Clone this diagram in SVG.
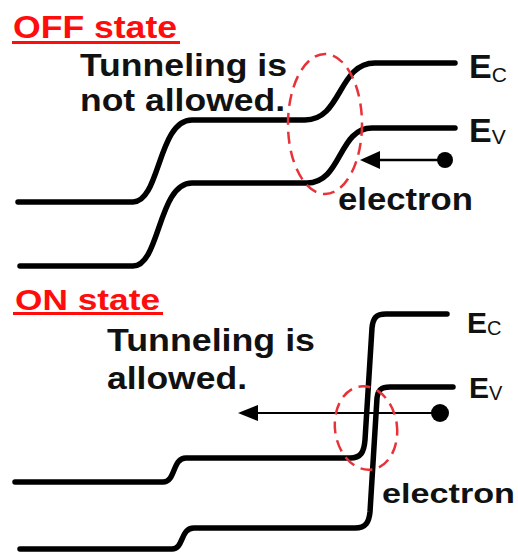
<svg xmlns="http://www.w3.org/2000/svg" width="518" height="555" viewBox="0 0 518 555">
<defs>
<style>
.band{fill:none;stroke:#000;stroke-width:5.5;stroke-linecap:round;stroke-linejoin:round}
.lbl{font-family:"Liberation Sans",Arial,sans-serif;font-weight:bold;fill:#111}
.title{font-family:"Liberation Sans",Arial,sans-serif;font-weight:bold;fill:#ff0d0d}
.sub{font-family:"Liberation Sans",Arial,sans-serif;fill:#111}
.ell{fill:none;stroke:#e8323a;stroke-width:2.5;stroke-dasharray:12 7}
.arr{stroke:#000;stroke-width:2.5}
</style>
</defs>

<g id="off-title">
<text class="title" x="13" y="38" font-size="31" textLength="164" lengthAdjust="spacingAndGlyphs">OFF state</text>
<rect x="12" y="41" width="168" height="3" fill="#ff0d0d"/>
</g>
<g id="off-note">
<text class="lbl" x="80" y="76" font-size="31" textLength="207" lengthAdjust="spacingAndGlyphs">Tunneling is</text>
<text class="lbl" x="80" y="111" font-size="31" textLength="205" lengthAdjust="spacingAndGlyphs">not allowed.</text>
</g>
<g id="off-ec">
<path class="band" d="M18,202 L133,202 C160,202 158,120 192,120 L305,120 C342,120 338,63 375,63 L455,63"/>
<text class="lbl" x="469" y="78" font-size="34">E<tspan class="sub" font-weight="normal" font-size="21" dy="4">C</tspan></text>
</g>
<g id="off-ev">
<path class="band" d="M20,266 L133,266 C160,266 158,183 192,183 L307,183 C342,183 338,128 372,128 L455,128"/>
<text class="lbl" x="469" y="142" font-size="34">E<tspan class="sub" font-weight="normal" font-size="21" dy="2">V</tspan></text>
</g>
<g id="off-electron">
<circle cx="445" cy="160" r="8"/>
<line class="arr" x1="445" y1="160" x2="378" y2="160"/>
<polygon points="360,160 380,151 380,169" fill="#000"/>
<text class="lbl" x="338" y="210" font-size="31" textLength="135" lengthAdjust="spacingAndGlyphs">electron</text>
</g>
<g id="off-region">
<ellipse class="ell" cx="325" cy="124" rx="37" ry="70"/>
</g>

<g id="on-title">
<text class="title" x="15" y="310" font-size="30" textLength="145" lengthAdjust="spacingAndGlyphs">ON state</text>
<rect x="13" y="312" width="150" height="3" fill="#ff0d0d"/>
</g>
<g id="on-note">
<text class="lbl" x="107" y="351" font-size="31" textLength="208" lengthAdjust="spacingAndGlyphs">Tunneling is</text>
<text class="lbl" x="107" y="389" font-size="31" textLength="140" lengthAdjust="spacingAndGlyphs">allowed.</text>
</g>
<g id="on-ec">
<path class="band" d="M15,482 L163,482 C176,482 172,458 186,458 L350,458 C361,458 364,452 365,440 L372,328 C373,318 376,314 386,314 L447,314"/>
<text class="lbl" x="467" y="333" font-size="30">E<tspan class="sub" font-weight="normal" font-size="20" dy="2">C</tspan></text>
</g>
<g id="on-ev">
<path class="band" d="M20,549 L172,549 C184,549 180,528 194,528 L355,528 C366,528 369,522 370,512 L377,398 C378,390 381,387 390,387 L453,387"/>
<text class="lbl" x="469" y="398" font-size="30">E<tspan class="sub" font-weight="normal" font-size="20" dy="2">V</tspan></text>
</g>
<g id="on-electron">
<circle cx="440" cy="413" r="9"/>
<line x1="440" y1="413" x2="255" y2="413" stroke="#000" stroke-width="2"/>
<polygon points="238,413 258,405 258,421" fill="#000"/>
<text class="lbl" x="382" y="503" font-size="28" textLength="133" lengthAdjust="spacingAndGlyphs">electron</text>
</g>
<g id="on-region">
<ellipse class="ell" cx="366" cy="428" rx="31" ry="42" transform="rotate(-8 366 428)"/>
</g>
</svg>
